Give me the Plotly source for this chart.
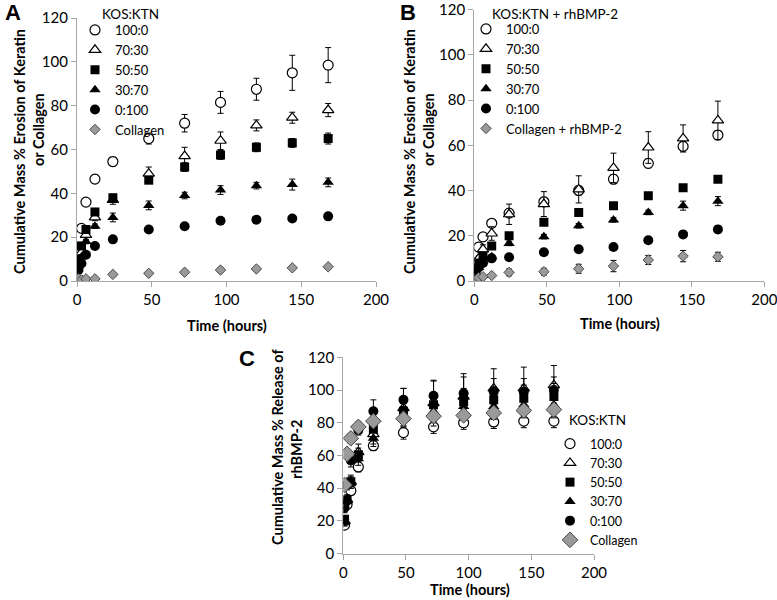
import plotly.graph_objects as go

# ---------------- data ----------------
time_h = [1, 3, 6, 12, 24, 48, 72, 96, 120, 144, 168]
series_names = ["100:0", "70:30", "50:50", "30:70", "0:100"]

# Panel A: erosion, KOS:KTN
a_100_0 = [12, 24, 36, 46.5, 54.5, 65, 72, 81.5, 87.5, 95, 98.5]
a_70_30 = [8, 13, 21, 29, 37, 49, 57, 64, 71, 74.5, 78]
a_50_50 = [10, 16, 23.5, 31.5, 38, 46, 52, 57.5, 61, 63, 65]
a_30_70 = [7, 11, 18, 25, 29, 34.5, 39, 41.5, 43.5, 44, 45]
a_0_100 = [5, 8, 12, 16, 19, 23.5, 25, 27.5, 28, 28.5, 29.5]
a_collagen = [1, 0.5, 1, 1, 3, 3.5, 4, 5, 5.5, 6, 6.5]
a_err_100_0 = [1, 1, 1.5, 2, 2, 2.5, 4, 5, 5, 8, 8]
a_err_70_30 = [1, 1, 1, 1.5, 2, 3, 4, 4, 2.5, 2.5, 3]
a_err_50_50 = [1, 1, 1, 1, 1.5, 1.5, 2, 2, 2, 2, 2.5]
a_err_30_70 = [1, 1, 1, 1, 2, 2, 1.5, 2, 1.5, 2.5, 2]
a_err_0_100 = [0.5, 0.5, 0.5, 0.5, 0.5, 0.5, 0.5, 0.5, 0.5, 0.5, 0.5]
a_err_collagen = [0.3, 0.3, 0.3, 0.3, 0.5, 0.5, 0.5, 1, 0.5, 0.5, 0.5]

# Panel B: erosion, KOS:KTN + rhBMP-2
b_100_0 = [8, 15, 19.5, 25.5, 30, 35, 40, 45, 52, 59.5, 64.5]
b_70_30 = [6, 10, 14, 21, 29.5, 34, 40.5, 50, 59, 63, 71]
b_50_50 = [5, 8, 11, 15.5, 20, 26, 30.3, 33.3, 37.7, 41.2, 45]
b_30_70 = [4, 6, 9, 10.7, 16.6, 19.6, 24.4, 27, 30.3, 33.3, 35.3]
b_0_100 = [3, 6, 8, 10, 10.5, 12.7, 14, 15, 18, 20.6, 22.8]
b_collagen = [0.5, 1.5, 1.9, 2.4, 3.8, 4.1, 5.4, 6.6, 9.3, 11, 10.7]
b_err_100_0 = [1, 1, 1, 1.5, 1.5, 2, 2, 2, 2, 2, 2]
b_err_70_30 = [1, 1, 2, 3, 4.5, 5.5, 6, 6.5, 7, 6, 8.5]
b_err_50_50 = [0.5, 0.5, 0.5, 1, 1, 1, 1, 1, 1, 1, 1]
b_err_30_70 = [0.5, 0.5, 0.5, 1, 1, 1, 1, 1, 1, 2, 2]
b_err_0_100 = [0.5, 0.5, 0.5, 0.5, 0.5, 0.5, 0.5, 0.5, 0.5, 1, 1.5]
b_err_collagen = [0.3, 0.3, 0.3, 0.3, 1.5, 1.5, 2, 2.5, 2, 2.5, 2]

# Panel C: rhBMP-2 release
c_100_0 = [17.5, 30, 38.5, 53, 66, 74, 77.5, 80, 80.5, 81, 81]
c_70_30 = [20, 33, 44, 62, 73, 89, 92, 96, 101, 101, 103]
c_50_50 = [21, 33, 44, 60.5, 76, 87, 91, 93, 94, 95, 96]
c_30_70 = [19, 32, 43, 58, 70.5, 84, 87, 90, 90, 91, 91]
c_0_100 = [28, 42, 57, 75.5, 87, 94, 96.5, 98, 99, 99, 100]
c_collagen = [42, 61, 70.5, 77.5, 81, 82.5, 84, 84.5, 86, 87.5, 88]
c_err_100_0 = [1.5, 2, 2, 3, 3, 4, 4, 4, 4, 4, 4]
c_err_70_30 = [3, 3, 4, 5, 6, 12, 14, 14, 12, 13, 12]
c_err_50_50 = [2, 2, 3, 4, 5, 6, 7, 8, 8, 8, 8]
c_err_30_70 = [2, 2, 3, 4, 5, 6, 7, 8, 8, 8, 8]
c_err_0_100 = [3, 3, 4, 3, 7, 7, 9, 10, 8, 8, 8]
c_err_collagen = [2, 2, 3, 3, 3, 3, 3, 3, 3, 3, 3]

# ---------------- figure ----------------
W, H = 777, 600
def px(x): return x / W
def py(y): return 1 - y / H

FONT = "Lato, Carlito, Calibri, sans-serif"
AXC = "#a6a6a6"

styles = [
    dict(symbol="circle", color="white", line=dict(color="black", width=1.2), size=10),
    dict(symbol="triangle-up", color="white", line=dict(color="black", width=1.2), size=10),
    dict(symbol="square", color="black", line=dict(color="black", width=0), size=9),
    dict(symbol="triangle-up", color="black", line=dict(color="black", width=0), size=10),
    dict(symbol="circle", color="black", line=dict(color="black", width=0), size=10),
]
coll_style_small = dict(symbol="diamond", color="#9a9a9a", line=dict(color="#4a4a4a", width=1), size=8)
coll_style_big = dict(symbol="diamond", color="#9a9a9a", line=dict(color="#4a4a4a", width=1), size=12)

panels = [
    ("x", "y", "legend", [a_100_0, a_70_30, a_50_50, a_30_70, a_0_100, a_collagen],
     [a_err_100_0, a_err_70_30, a_err_50_50, a_err_30_70, a_err_0_100, a_err_collagen],
     "Collagen", coll_style_small),
    ("x2", "y2", "legend2", [b_100_0, b_70_30, b_50_50, b_30_70, b_0_100, b_collagen],
     [b_err_100_0, b_err_70_30, b_err_50_50, b_err_30_70, b_err_0_100, b_err_collagen],
     "Collagen + rhBMP-2", coll_style_small),
    ("x3", "y3", "legend3", [c_100_0, c_70_30, c_50_50, c_30_70, c_0_100, c_collagen],
     [c_err_100_0, c_err_70_30, c_err_50_50, c_err_30_70, c_err_0_100, c_err_collagen],
     "Collagen", coll_style_big),
]

fig = go.Figure()
for xa, ya, lg, ys, errs, coll_name, coll_style in panels:
    names = series_names + [coll_name]
    mstyles = styles + [coll_style]
    for name, yv, ev, ms in zip(names, ys, errs, mstyles):
        fig.add_trace(go.Scatter(
            x=time_h, y=yv, name=name, mode="markers",
            xaxis=xa, yaxis=ya, legend=lg,
            marker=ms,
            error_y=dict(type="data", array=ev, visible=True, color="black",
                         thickness=1, width=3),
        ))

def xax(domain, anchor):
    return dict(domain=domain, anchor=anchor, range=[0, 200], dtick=50, tick0=0,
                automargin=False, ticklabeloverflow="allow",
                showline=True, linecolor=AXC, linewidth=1.3, ticks="outside",
                ticklen=5, tickwidth=1.3, tickcolor=AXC, showgrid=False, zeroline=False,
                tickfont=dict(family=FONT, size=15, color="black"))

def yax(domain, anchor):
    return dict(domain=domain, anchor=anchor, range=[0, 120], dtick=20, tick0=0,
                automargin=False, ticklabeloverflow="allow",
                showline=True, linecolor=AXC, linewidth=1.3, ticks="outside",
                ticklen=5, tickwidth=1.3, tickcolor=AXC, showgrid=False, zeroline=False,
                tickfont=dict(family=FONT, size=15, color="black"))

def legend_cfg(x, y, size):
    return dict(x=x, y=y, xanchor="left", yanchor="top", xref="paper", yref="paper",
                bgcolor="rgba(0,0,0,0)", itemwidth=30, traceorder="normal",
                font=dict(family=FONT, size=size, color="black"))

fig.update_layout(
    width=W, height=H, autosize=False,
    margin=dict(l=0, r=0, t=0, b=0, pad=0),
    paper_bgcolor="white", plot_bgcolor="white",
    showlegend=True,
    xaxis=xax([px(77), px(376)], "y"),
    yaxis=yax([py(281), py(18)], "x"),
    xaxis2=xax([px(474.3), px(764.3)], "y2"),
    yaxis2=yax([py(281), py(9.5)], "x2"),
    xaxis3=xax([px(343.3), px(594)], "y3"),
    yaxis3=yax([py(553.7), py(357.3)], "x3"),
    legend=legend_cfg(px(75), py(15), 13),
    legend2=legend_cfg(px(466), py(14), 13),
    legend3=legend_cfg(px(550), py(429), 12.5),
)

ann = []
def text_ann(x, y, text, size=14, angle=0, family=FONT, xanchor="center"):
    ann.append(dict(x=px(x), y=py(y), xref="paper", yref="paper", text=text,
                    showarrow=False, textangle=angle, xanchor=xanchor, yanchor="middle",
                    font=dict(family=family, size=size, color="black")))

# panel letters
text_ann(12.5, 12.5, "<b>A</b>", size=22, family="Arial, Liberation Sans")
text_ann(408, 12.5, "<b>B</b>", size=22, family="Arial, Liberation Sans")
text_ann(247, 358, "<b>C</b>", size=22, family="Arial, Liberation Sans")
# legend titles
text_ann(100, 14, "KOS:KTN", size=13.5, xanchor="left")
text_ann(490, 14, "KOS:KTN + rhBMP-2", size=13.5, xanchor="left")
text_ann(567, 420, "KOS:KTN", size=13.5, xanchor="left")
# y titles
text_ann(19, 152, "<b>Cumulative Mass % Erosion of Keratin</b>", size=14.5, angle=-90)
text_ann(38, 130, "<b>or Collagen</b>", size=14.5, angle=-90)
text_ann(409, 152, "<b>Cumulative Mass % Erosion of Keratin</b>", size=14.5, angle=-90)
text_ann(428, 130, "<b>or Collagen</b>", size=14.5, angle=-90)
text_ann(277, 447, "<b>Cumulative Mass % Release of</b>", size=14.5, angle=-90)
text_ann(296, 450, "<b>rhBMP-2</b>", size=14.5, angle=-90)
# x titles
text_ann(227, 325, "<b>Time (hours)</b>", size=14.5)
text_ann(620, 323, "<b>Time (hours)</b>", size=14.5)
text_ann(470, 589, "<b>Time (hours)</b>", size=14.5)
fig.update_layout(annotations=ann)

fig.write_html(
    "out.html",
    config={"displayModeBar": False},
    post_script="document.body.style.margin='0';document.body.style.padding='0';"
                "document.body.style.overflow='hidden';",
)
